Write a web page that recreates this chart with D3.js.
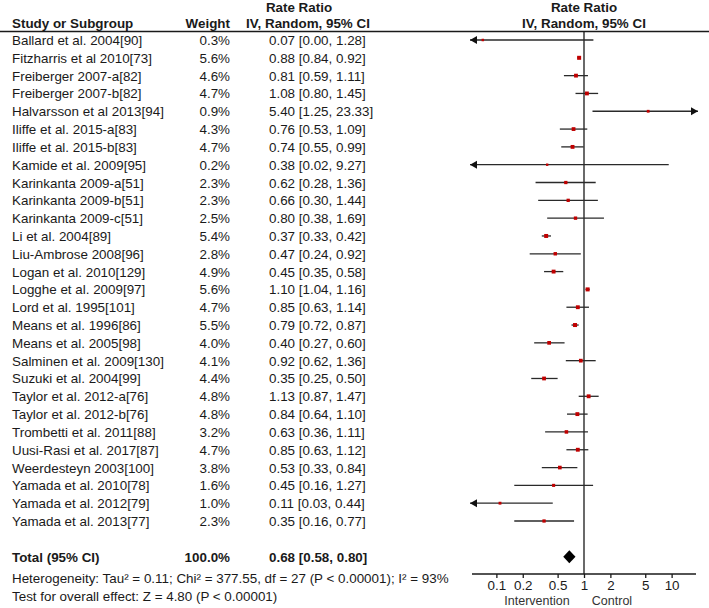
<!DOCTYPE html>
<html>
<head>
<meta charset="utf-8">
<script src="https://cdn.jsdelivr.net/npm/d3@7"></script>
<style>
  body { margin: 0; background: #fff; }
  svg { font-family: "Liberation Sans", Arial, sans-serif; }
</style>
</head>
<body>
<div id="forest"></div>
<script>
// studies, weights and rate ratios (with 95% CI)
let studies = ["Ballard et al. 2004[90]", "Fitzharris et al 2010[73]", "Freiberger 2007-a[82]",
  "Freiberger 2007-b[82]", "Halvarsson et al 2013[94]", "Iliffe et al. 2015-a[83]",
  "Iliffe et al. 2015-b[83]", "Kamide et al. 2009[95]", "Karinkanta 2009-a[51]",
  "Karinkanta 2009-b[51]", "Karinkanta 2009-c[51]", "Li et al. 2004[89]",
  "Liu-Ambrose 2008[96]", "Logan et al. 2010[129]", "Logghe et al. 2009[97]",
  "Lord et al. 1995[101]", "Means et al. 1996[86]", "Means et al. 2005[98]",
  "Salminen et al. 2009[130]", "Suzuki et al. 2004[99]", "Taylor et al. 2012-a[76]",
  "Taylor et al. 2012-b[76]", "Trombetti et al. 2011[88]", "Uusi-Rasi et al. 2017[87]",
  "Weerdesteyn 2003[100]", "Yamada et al. 2010[78]", "Yamada et al. 2012[79]",
  "Yamada et al. 2013[77]"];
let weights = [0.3, 5.6, 4.6, 4.7, 0.9, 4.3, 4.7, 0.2, 2.3, 2.3, 2.5, 5.4, 2.8, 4.9, 5.6,
  4.7, 5.5, 4.0, 4.1, 4.4, 4.8, 4.8, 3.2, 4.7, 3.8, 1.6, 1.0, 2.3];
let ratio = [0.07, 0.88, 0.81, 1.08, 5.40, 0.76, 0.74, 0.38, 0.62, 0.66, 0.80, 0.37, 0.47,
  0.45, 1.10, 0.85, 0.79, 0.40, 0.92, 0.35, 1.13, 0.84, 0.63, 0.85, 0.53, 0.45, 0.11, 0.35];
let lower = [0.00, 0.84, 0.59, 0.80, 1.25, 0.53, 0.55, 0.02, 0.28, 0.30, 0.38, 0.33, 0.24,
  0.35, 1.04, 0.63, 0.72, 0.27, 0.62, 0.25, 0.87, 0.64, 0.36, 0.63, 0.33, 0.16, 0.03, 0.16];
let upper = [1.28, 0.92, 1.11, 1.45, 23.33, 1.09, 0.99, 9.27, 1.36, 1.44, 1.69, 0.42, 0.92,
  0.58, 1.16, 1.14, 0.87, 0.60, 1.36, 0.50, 1.47, 1.10, 1.11, 1.12, 0.84, 1.27, 0.44, 0.77];

let total = {weight: 100.0, ratio: 0.68, lower: 0.58, upper: 0.80};
let tickVals = [0.1, 0.2, 0.5, 1, 2, 5, 10];
let heterogeneity = "Heterogeneity: Tau\u00b2 = 0.11; Chi\u00b2 = 377.55, df = 27 (P < 0.00001); I\u00b2 = 93%";
let overall = "Test for overall effect: Z = 4.80 (P < 0.00001)";

{
  let sizex = 709,
      sizey = 608;
  let fs = "13.4px";
  let ink = "#1a1a1a";

  var svg = d3.select("#forest")
    .append("svg")
      .attr("width", sizex)
      .attr("height", sizey);

  var fmt = d3.format(".2f");
  var ciText = (r, l, u) => fmt(r) + " [" + fmt(l) + ", " + fmt(u) + "]";

  // rows
  var scaley = d3.scaleLinear()
    .domain([0, studies.length - 1])
    .range([40, 521]);
  var totalY = scaley(studies.length + 1);
  var axisY = 574;

  // x (log scale, RevMan style 0.05 .. 20)
  var scalex = d3.scaleLog()
    .domain([0.05, 20])
    .range([470, 698]);
  var lo = scalex.domain()[0], hi = scalex.domain()[1];

  // headers
  svg.append("text").attr("x", 299).attr("y", 12).attr("text-anchor", "middle")
    .style("font-size", fs).style("font-weight", "bold").attr("fill", ink).text("Rate Ratio");
  svg.append("text").attr("x", 584).attr("y", 12).attr("text-anchor", "middle")
    .style("font-size", fs).style("font-weight", "bold").attr("fill", ink).text("Rate Ratio");
  svg.append("text").attr("x", 12).attr("y", 27.5)
    .style("font-size", fs).style("font-weight", "bold").attr("fill", ink).text("Study or Subgroup");
  svg.append("text").attr("x", 230).attr("y", 27.5).attr("text-anchor", "end")
    .style("font-size", fs).style("font-weight", "bold").attr("fill", ink).text("Weight");
  svg.append("text").attr("x", 308).attr("y", 27.5).attr("text-anchor", "middle")
    .style("font-size", fs).style("font-weight", "bold").attr("fill", ink).text("IV, Random, 95% CI");
  svg.append("text").attr("x", 584).attr("y", 27.5).attr("text-anchor", "middle")
    .style("font-size", fs).style("font-weight", "bold").attr("fill", ink).text("IV, Random, 95% CI");

  svg.append("line")
    .attr("x1", 0).attr("x2", sizex).attr("y1", 31.5).attr("y2", 31.5)
    .attr("stroke", ink).attr("stroke-width", 1.3);

  // line of no effect
  svg.append("line")
    .attr("x1", scalex(1)).attr("x2", scalex(1))
    .attr("y1", 31.5).attr("y2", axisY)
    .attr("stroke", ink).attr("stroke-width", 1.3);

  studies.forEach(function(name, i) {
    let y = scaley(i);
    svg.append("text").attr("x", 12).attr("y", y + 5)
      .style("font-size", fs).attr("fill", ink).text(name);
    svg.append("text").attr("x", 230).attr("y", y + 5).attr("text-anchor", "end")
      .style("font-size", fs).attr("fill", ink).text(weights[i].toFixed(1) + "%");
    svg.append("text").attr("x", 269).attr("y", y + 5)
      .style("font-size", fs).attr("fill", ink).text(ciText(ratio[i], lower[i], upper[i]));

    let l = Math.max(lower[i], lo), u = Math.min(upper[i], hi);
    svg.append("line")
      .attr("x1", scalex(l)).attr("x2", scalex(u))
      .attr("y1", y).attr("y2", y)
      .attr("stroke", "#2a2a2a").attr("stroke-width", 1.3);
    if (lower[i] < lo) {
      let x0 = scalex(lo);
      svg.append("path")
        .attr("d", "M" + x0 + "," + y + "l7,-4l0,8z")
        .attr("fill", "#111");
    }
    if (upper[i] > hi) {
      let x1 = scalex(hi);
      svg.append("path")
        .attr("d", "M" + x1 + "," + y + "l-7,-4l0,8z")
        .attr("fill", "#111");
    }
    let s = 2 + 0.85 * Math.sqrt(weights[i]);
    svg.append("rect")
      .attr("x", scalex(ratio[i]) - s / 2)
      .attr("y", y - s / 2)
      .attr("width", s).attr("height", s)
      .attr("fill", "#c00000");
  });

  // total row
  svg.append("text").attr("x", 12).attr("y", totalY + 5)
    .style("font-size", fs).style("font-weight", "bold").attr("fill", ink).text("Total (95% CI)");
  svg.append("text").attr("x", 230).attr("y", totalY + 5).attr("text-anchor", "end")
    .style("font-size", fs).style("font-weight", "bold").attr("fill", ink).text(total.weight.toFixed(1) + "%");
  svg.append("text").attr("x", 269).attr("y", totalY + 5)
    .style("font-size", fs).style("font-weight", "bold").attr("fill", ink)
    .text(ciText(total.ratio, total.lower, total.upper));
  svg.append("path")
    .attr("d", "M" + scalex(total.lower) + "," + totalY +
               "L" + scalex(total.ratio) + "," + (totalY - 6.5) +
               "L" + scalex(total.upper) + "," + totalY +
               "L" + scalex(total.ratio) + "," + (totalY + 6.5) + "Z")
    .attr("fill", "#000");

  svg.append("text").attr("x", 12).attr("y", 583)
    .style("font-size", fs).attr("fill", ink).text(heterogeneity);
  svg.append("text").attr("x", 12).attr("y", 601)
    .style("font-size", fs).attr("fill", ink).text(overall);

  // axis
  var axis = svg.append("g")
    .attr("transform", "translate(0," + axisY + ")")
    .call(d3.axisBottom(scalex).tickValues(tickVals).tickFormat(d3.format("")).tickSize(4).tickSizeOuter(0));
  axis.select(".domain").attr("stroke", ink).attr("stroke-width", 1.3)
    .attr("d", "M472,0H696");
  axis.selectAll(".tick line").attr("stroke", ink).attr("stroke-width", 1.3);
  axis.selectAll(".tick text")
    .style("font-size", fs).style("font-family", "'Liberation Sans', Arial, sans-serif")
    .attr("fill", ink).attr("dy", "0.7em");

  svg.append("text").attr("x", 537).attr("y", 605).attr("text-anchor", "middle")
    .style("font-size", "12.5px").attr("fill", "#333").text("Intervention");
  svg.append("text").attr("x", 612).attr("y", 605).attr("text-anchor", "middle")
    .style("font-size", "12.5px").attr("fill", "#333").text("Control");
}
</script>
</body>
</html>
